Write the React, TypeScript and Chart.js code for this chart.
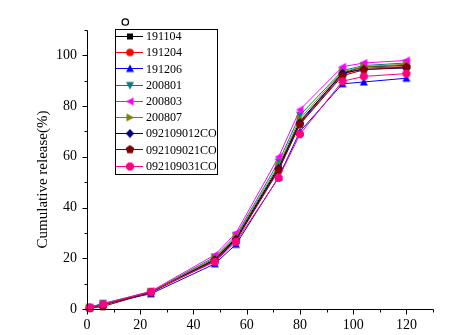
import React, { useEffect, useRef } from 'react';
import { Chart, registerables } from 'chart.js';

Chart.register(...registerables);

// ---- data ----
const times = [1, 6, 24, 48, 56, 72, 80, 96, 104, 120];
const seriesNames = ['191104', '191204', '191206', '200801', '200803', '200807', '092109012CO', '092109021CO', '092109031CO'];
const s191104 = [0.5, 1.8, 6.6, 19.5, 28.0, 56.0, 74.0, 93.0, 95.5, 96.0];
const s191204 = [0.4, 1.5, 6.5, 19.0, 27.5, 55.0, 73.0, 92.5, 95.0, 95.5];
const s191206 = [0.8, 2.0, 6.0, 17.8, 25.5, 52.0, 70.0, 88.8, 89.5, 91.0];
const s200801 = [0.6, 2.2, 6.8, 20.5, 29.0, 58.0, 76.4, 94.0, 96.0, 97.0];
const s200803 = [0.5, 2.0, 7.0, 21.3, 30.0, 60.0, 78.6, 95.5, 97.0, 98.0];
const s200807 = [0.5, 1.9, 6.8, 20.0, 28.5, 56.7, 75.0, 93.5, 95.5, 96.5];
const s092109012CO = [0.4, 1.7, 6.5, 19.5, 27.5, 55.5, 73.5, 93.0, 94.5, 95.0];
const s092109021CO = [0.3, 1.0, 6.5, 19.0, 27.0, 54.7, 72.8, 92.0, 94.3, 95.4];
const s092109031CO = [0.5, 1.8, 6.8, 18.6, 26.5, 51.7, 68.9, 89.8, 91.7, 92.8];
const seriesValues = [s191104, s191204, s191206, s200801, s200803, s200807, s092109012CO, s092109021CO, s092109031CO];
const seriesColors = ['#000000', '#FF0000', '#0000FF', '#008080', '#FF00FF', '#808000', '#000080', '#800000', '#FF0080'];
const markerShapes = ['square', 'circle', 'triUp', 'triDown', 'triLeft', 'triRight', 'diamond', 'pentagon', 'hexagon'];
const xTickValues = [0, 20, 40, 60, 80, 100, 120];
const yTickValues = [0, 20, 40, 60, 80, 100];
const xMin = 0, xMax = 130, yMin = 0, yMax = 110;
const minorStep = 10;
const yTitle = 'Cumulative release(%)';

const SERIF = '"Liberation Serif", "Times New Roman", serif';

function makeMarker(shape: string, color: string): HTMLCanvasElement {
  const c = document.createElement('canvas');
  c.width = 10; c.height = 10;
  const g = c.getContext('2d')!;
  g.fillStyle = color;
  g.beginPath();
  const poly = (pts: number[][]) => { g.moveTo(pts[0][0], pts[0][1]); for (let i = 1; i < pts.length; i++) g.lineTo(pts[i][0], pts[i][1]); g.closePath(); };
  const reg = (n: number, r: number, a0: number) => {
    const pts: number[][] = [];
    for (let i = 0; i < n; i++) { const a = a0 + (i * 2 * Math.PI) / n; pts.push([5 + r * Math.cos(a), 5 + r * Math.sin(a)]); }
    poly(pts);
  };
  switch (shape) {
    case 'square': g.rect(2, 2, 6, 6); break;
    case 'circle': g.arc(5, 5, 3.8, 0, Math.PI * 2); break;
    case 'triUp': poly([[5, 1], [9, 8.5], [1, 8.5]]); break;
    case 'triDown': poly([[1, 1.5], [9, 1.5], [5, 9]]); break;
    case 'triLeft': poly([[1, 5], [8.5, 1], [8.5, 9]]); break;
    case 'triRight': poly([[1.5, 1], [9, 5], [1.5, 9]]); break;
    case 'diamond': poly([[5, 0.5], [9.2, 5], [5, 9.5], [0.8, 5]]); break;
    case 'pentagon': reg(5, 4.5, -Math.PI / 2); break;
    case 'hexagon': reg(8, 4.3, Math.PI / 8); break;
  }
  g.fill();
  return c;
}

const decor = {
  id: 'decor',
  afterDraw(chart: any) {
    const ctx: CanvasRenderingContext2D = chart.ctx;
    const xs = chart.scales.x, ys = chart.scales.y;
    const { top, bottom } = chart.chartArea;
    ctx.save();
    ctx.strokeStyle = '#000';
    ctx.lineWidth = 1;
    const x0 = Math.round(xs.getPixelForValue(xMin)) + 0.5;
    const x1 = Math.round(xs.getPixelForValue(xMax)) + 0.5;
    const yb = Math.round(ys.getPixelForValue(yMin)) + 0.5;
    const yt = Math.round(ys.getPixelForValue(yMax)) + 0.5;
    ctx.beginPath();
    ctx.moveTo(x0, yt); ctx.lineTo(x0, yb); ctx.lineTo(x1, yb);
    for (let v = xMin; v <= xMax; v += minorStep) {
      const px = Math.round(xs.getPixelForValue(v)) + 0.5;
      const len = xTickValues.includes(v) ? 5 : 3;
      ctx.moveTo(px, yb); ctx.lineTo(px, yb + len);
    }
    for (let v = yMin; v <= yMax; v += minorStep) {
      const py = Math.round(ys.getPixelForValue(v)) + 0.5;
      const len = yTickValues.includes(v) ? 5 : 3;
      ctx.moveTo(x0, py); ctx.lineTo(x0 - len, py);
    }
    ctx.stroke();

    // y title
    ctx.save();
    ctx.translate(43, (top + bottom) / 2 + 10);
    ctx.rotate(-Math.PI / 2);
    ctx.fillStyle = '#000';
    ctx.font = `15px ${SERIF}`;
    ctx.textAlign = 'center';
    ctx.textBaseline = 'middle';
    ctx.fillText(yTitle, 0, 0);
    ctx.restore();

    // small circle
    ctx.beginPath();
    ctx.arc(125.3, 22, 3.2, 0, Math.PI * 2);
    ctx.lineWidth = 1.3;
    ctx.stroke();

    // legend
    ctx.lineWidth = 1;
    ctx.strokeRect(115.5, 29.5, 102, 145);
    ctx.font = `12px ${SERIF}`;
    ctx.textAlign = 'left';
    ctx.textBaseline = 'middle';
    chart.data.datasets.forEach((ds: any, i: number) => {
      const y = 36 + i * 16.2;
      ctx.strokeStyle = ds.borderColor;
      ctx.beginPath();
      ctx.moveTo(116, Math.round(y) + 0.5);
      ctx.lineTo(143, Math.round(y) + 0.5);
      ctx.stroke();
      const img = ds.pointStyle as HTMLCanvasElement;
      ctx.drawImage(img, 130 - img.width / 2, Math.round(y) + 0.5 - img.height / 2);
      ctx.fillStyle = '#000';
      ctx.fillText(ds.label, 146, y + 1);
    });
    ctx.restore();
  },
};

export default function App() {
  const ref = useRef<HTMLCanvasElement>(null);
  useEffect(() => {
    const markers = markerShapes.map((s, i) => makeMarker(s, seriesColors[i]));
    const datasets = seriesNames.map((name, i) => ({
      label: name,
      data: times.map((t, j) => ({ x: t, y: seriesValues[i][j] })),
      borderColor: seriesColors[i],
      backgroundColor: seriesColors[i],
      borderWidth: 1,
      pointStyle: markers[i],
      pointRadius: 4,
      tension: 0,
      clip: false as any,
      order: seriesNames.length - 1 - i,
    }));
    const chart = new Chart(ref.current!, {
      type: 'line',
      data: { datasets },
      options: {
        responsive: false,
        animation: false,
        layout: { padding: { top: 30, right: 33, left: 0, bottom: 0 } },
        plugins: { legend: { display: false }, tooltip: { enabled: false } },
        scales: {
          x: {
            type: 'linear',
            min: xMin,
            max: xMax,
            grid: { display: false, drawTicks: false },
            border: { display: false },
            afterBuildTicks: (s: any) => { s.ticks = xTickValues.map((v) => ({ value: v })); },
            afterFit: (s: any) => { s.height = 26; },
            ticks: { padding: 8, color: '#000', font: { family: SERIF, size: 14 }, maxRotation: 0, autoSkip: false },
          },
          y: {
            type: 'linear',
            min: yMin,
            max: yMax,
            grid: { display: false, drawTicks: false },
            border: { display: false },
            afterBuildTicks: (s: any) => { s.ticks = yTickValues.map((v) => ({ value: v })); },
            afterFit: (s: any) => { s.width = 87; },
            ticks: { padding: 10, color: '#000', font: { family: SERIF, size: 14 }, autoSkip: false },
          },
        },
      },
      plugins: [decor],
    });
    return () => chart.destroy();
  }, []);
  return (
    <div style={{ position: 'fixed', left: 0, top: 0, width: 466, height: 335, background: '#fff' }}>
      <canvas ref={ref} width={466} height={335} style={{ width: 466, height: 335, display: 'block' }} />
    </div>
  );
}
